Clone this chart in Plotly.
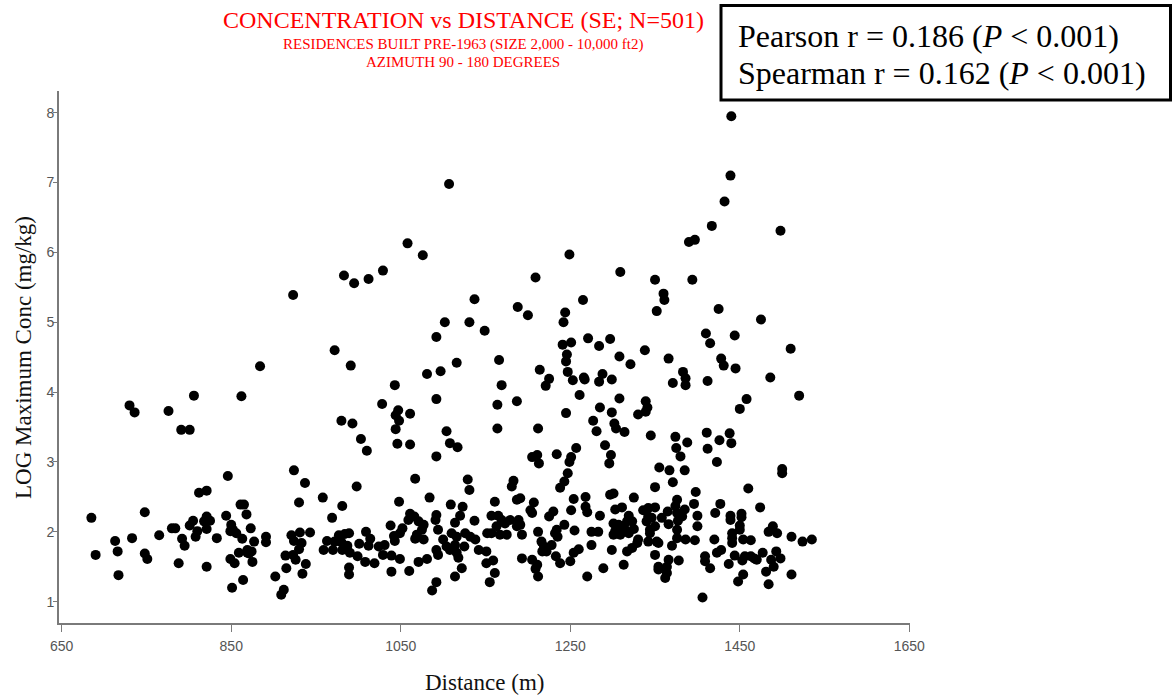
import plotly.graph_objects as go

# ---- data: distance from source (m) and log of maximum concentration (mg/kg) ----
dist_high_east = [1440, 1439, 1432, 1417, 1390, 1397, 1498, 1309, 1350, 1394, 1360, 1361, 1352, 1425, 1475,
                  1410, 1415, 1444, 1510, 1271, 1284, 1297, 1308, 1321, 1338, 1366, 1383, 1386, 1386, 1371,
                  1412, 1428, 1431, 1445, 1486, 1266, 1267, 1288, 1284, 1299, 1265]
conc_high_east = [7.95, 7.10, 6.73, 6.38, 6.15, 6.18, 6.31, 5.72, 5.61, 5.61, 5.41, 5.32, 5.16, 5.19, 5.04,
                  4.84, 4.70, 4.81, 4.62, 4.77, 4.66, 4.76, 4.51, 4.40, 4.60, 4.48, 4.29, 4.20, 4.10, 4.13,
                  4.16, 4.48, 4.38, 4.34, 4.21, 4.21, 4.18, 4.26, 4.15, 4.18, 5.32]

dist_high_mid = [1107, 1058, 1076, 1249, 983, 995, 1012, 1029, 923, 1209, 1137, 1188, 1200, 1244, 1242,
                 1102, 1131, 1149, 1092, 972, 991, 1043, 1081, 1097, 1116, 1166, 1169, 1214, 1225, 1221,
                 1241, 1251, 1246, 1245, 1247, 1253, 884]
conc_high_mid = [6.98, 6.13, 5.96, 5.97, 5.67, 5.56, 5.62, 5.74, 5.39, 5.64, 5.33, 5.22, 5.10, 5.14, 5.00,
                 5.00, 5.00, 4.88, 4.79, 4.60, 4.38, 4.10, 4.26, 4.30, 4.42, 4.46, 4.10, 4.32, 4.19, 4.09,
                 4.68, 4.71, 4.54, 4.44, 4.29, 4.17, 4.37]

dist_near = [730, 736, 806, 862, 776, 791, 801, 846, 812, 821, 685, 748, 690, 713, 716,
             717, 733, 748, 751, 765, 780, 784, 792, 795, 788, 801, 805, 810, 808, 818,
             821, 825, 821, 821, 833, 844, 850, 852, 856, 849, 861, 865, 868, 873, 863,
             877, 859, 869, 874, 871, 869, 849, 854, 875, 864, 851, 891, 891, 902]
conc_near = [3.81, 3.71, 3.95, 3.94, 3.73, 3.46, 3.46, 2.80, 2.56, 2.59, 2.20, 2.28, 1.67, 1.87, 1.72,
             1.38, 1.91, 1.69, 1.61, 1.95, 2.05, 2.05, 1.90, 1.80, 1.55, 2.09, 2.16, 2.01, 1.93, 2.15,
             2.22, 2.16, 2.04, 1.50, 1.91, 2.23, 2.10, 2.03, 1.98, 2.01, 2.39, 2.39, 2.25, 2.05, 1.90,
             1.86, 1.70, 1.74, 1.72, 1.69, 1.70, 1.61, 1.55, 1.57, 1.31, 1.20, 1.93, 1.85, 1.36]

dist_mid_upper = [1092, 1028, 1047, 1061, 1044, 1048, 1044, 980, 993, 1003, 1010, 1046, 1061, 1104, 1108,
                  1117, 1092, 924, 937, 930, 998, 958, 981, 969, 1067, 1048, 1084, 1129, 1131, 1109,
                  1123, 1120, 1114, 1137, 1092, 1091]
conc_mid_upper = [3.90, 3.83, 3.74, 3.69, 3.67, 3.59, 3.47, 3.59, 3.55, 3.33, 3.16, 3.26, 3.25, 3.44, 3.27,
                  3.21, 3.08, 2.88, 2.70, 2.42, 2.65, 2.49, 2.37, 2.20, 2.76, 2.43, 2.49, 2.75, 2.60, 2.39,
                  2.36, 2.23, 2.13, 2.16, 2.24, 2.17]

dist_mid_band = [1061, 1066, 1071, 1077, 1075, 1069, 1067, 1077, 1059, 1038, 1052, 1049, 1042, 1043,
                 921, 931, 943, 924, 933, 930, 923, 914, 926, 915, 938, 934, 912, 909,
                 963, 959, 972, 977, 984, 989, 980, 981, 987, 990, 999, 1001, 1009, 1014, 1012, 1008,
                 1019, 989, 989, 970,
                 1024, 1031, 1029, 1039, 1039, 1049, 1060, 1071, 1081,
                 1092, 1094, 1100, 1104, 1110, 1116, 1114, 1108, 1116, 1118, 1122, 1114, 1092, 1087,
                 1126, 1132, 1138, 1142, 1151, 1151, 1125, 1094]
conc_mid_band = [2.26, 2.22, 2.15, 2.10, 2.03, 1.96, 1.90, 1.89, 2.17, 2.09, 2.05, 1.98, 1.94, 1.87,
                 1.95, 1.99, 1.99, 1.87, 1.84, 1.75, 1.67, 1.66, 1.60, 1.48, 1.54, 1.40, 1.17, 1.10,
                 1.87, 1.74, 1.86, 1.95, 1.97, 1.98, 1.85, 1.74, 1.80, 1.70, 1.65, 1.83, 2.00, 1.90, 1.80, 1.57,
                 1.55, 1.49, 1.39, 1.74,
                 1.79, 1.81, 1.67, 1.66, 1.43, 1.61, 1.44, 1.57, 1.61,
                 1.74, 1.67, 1.89, 1.79, 1.98, 1.93, 1.81, 1.74, 1.70, 1.63, 1.48, 1.36, 1.28, 1.16,
                 1.98, 1.93, 1.89, 1.74, 1.72, 1.55, 1.79, 2.03]

dist_far_upper = [1164, 1187, 1164, 1212, 1245, 1261, 1308, 1285, 1299, 1277, 1281, 1302, 1304, 1314, 1339,
                  1341, 1339, 1330, 1345, 1374, 1388, 1375, 1380, 1234, 1257, 1251, 1249, 1247, 1243, 1238,
                  1291, 1298, 1296, 1205, 1211, 1213, 1183, 1181, 1355, 1367, 1385, 1371, 1350, 1398, 1396,
                  1400, 1400, 1397]
conc_far_upper = [3.82, 3.87, 3.48, 3.48, 3.70, 3.96, 3.91, 3.78, 3.71, 3.59, 3.44, 3.55, 3.48, 3.43, 3.87,
                  3.78, 3.72, 3.68, 3.38, 3.36, 3.28, 3.20, 3.08, 3.11, 3.20, 3.07, 3.00, 2.84, 2.72, 2.63,
                  3.24, 3.10, 2.98, 3.07, 3.10, 2.98, 2.73, 2.65, 2.92, 2.88, 2.88, 2.71, 2.64, 2.57, 2.40,
                  2.23, 2.08, 1.88]

dist_far_band = [1161, 1157, 1165, 1169, 1173, 1179, 1189, 1191, 1193, 1187, 1163, 1157, 1152, 1175, 1167,
                 1187, 1191, 1203, 1207, 1205, 1159, 1161, 1155, 1212, 1193, 1205, 1211, 1209, 1212,
                 1216, 1219, 1222, 1217, 1228, 1232, 1234, 1243, 1235, 1233, 1238, 1250, 1254, 1260, 1255,
                 1225, 1230, 1251, 1254, 1268, 1268, 1270, 1285, 1297, 1301, 1325, 1303, 1311, 1319,
                 1301, 1307, 1303, 1311, 1315, 1309, 1319, 1325, 1301, 1323, 1317,
                 1275, 1283, 1275, 1299, 1289, 1270, 1313, 1317, 1323, 1329, 1330,
                 1336, 1342, 1350, 1342, 1346, 1340, 1358, 1365, 1376, 1374, 1385, 1376, 1382, 1366, 1377,
                 1344, 1350, 1376, 1342, 1352, 1354, 1370, 1376, 1386, 1344,
                 1350, 1354, 1364, 1362, 1366, 1378, 1354, 1364]
conc_far_band = [2.43, 2.23, 2.23, 2.17, 2.12, 2.17, 2.17, 2.10, 1.96, 2.08, 2.08, 1.98, 1.98, 1.96, 1.96,
                 2.46, 2.48, 2.31, 2.42, 2.27, 1.59, 1.41, 1.28, 2.00, 1.62, 1.60, 1.53, 1.47, 1.36,
                 1.86, 1.79, 1.72, 1.72, 1.81, 1.98, 2.03, 2.10, 1.93, 1.65, 1.55, 1.58, 1.70, 1.75, 2.02,
                 2.22, 2.29, 2.31, 2.47, 2.50, 2.36, 2.28, 2.23, 2.53, 2.55, 2.49, 2.32, 2.35, 2.23,
                 2.12, 2.10, 2.01, 2.08, 2.03, 1.96, 1.98, 2.04, 1.96, 2.15, 2.15,
                 2.00, 2.00, 1.81, 1.74, 1.48, 1.36, 1.53, 1.72, 1.77, 1.84, 1.89,
                 2.31, 2.34, 2.35, 2.22, 2.20, 2.15, 2.20, 2.29, 2.46, 2.37, 2.32, 2.27, 2.22, 2.11, 2.16,
                 2.03, 2.08, 2.03, 1.86, 1.86, 1.84, 1.80, 1.91, 1.89, 1.98,
                 1.67, 1.50, 1.50, 1.34, 1.60, 1.59, 1.46, 1.41]

dist_farthest = [1458, 1450, 1520, 1411, 1426, 1412, 1438, 1440, 1423, 1500, 1500, 1460, 1474, 1427, 1421,
                 1439, 1439, 1452, 1452, 1450, 1450,
                 1420, 1441, 1441, 1441, 1454, 1463, 1484, 1489, 1494, 1511, 1524, 1535,
                 1409, 1409, 1415, 1423, 1428, 1437, 1444, 1453, 1456, 1463, 1467, 1470, 1477, 1487, 1493,
                 1498, 1490, 1454, 1448, 1481, 1484, 1511, 1406]
conc_farthest = [3.90, 3.76, 3.95, 3.42, 3.31, 3.19, 3.41, 3.27, 3.00, 2.90, 2.84, 2.62, 2.35, 2.40, 2.27,
                 2.23, 2.17, 2.26, 2.21, 2.09, 2.03,
                 1.89, 1.98, 1.91, 1.84, 1.89, 1.88, 2.00, 2.08, 1.98, 1.93, 1.86, 1.89,
                 1.65, 1.58, 1.48, 1.70, 1.74, 1.54, 1.66, 1.59, 1.65, 1.65, 1.62, 1.60, 1.70, 1.60, 1.72,
                 1.62, 1.50, 1.39, 1.29, 1.43, 1.25, 1.39, 1.06]

x_ticks = [650, 850, 1050, 1250, 1450, 1650]
y_ticks = [1, 2, 3, 4, 5, 6, 7, 8]

title_text = "CONCENTRATION vs DISTANCE (SE; N=501)"
subtitle_1 = "RESIDENCES BUILT PRE-1963 (SIZE 2,000 - 10,000 ft2)"
subtitle_2 = "AZIMUTH 90 - 180 DEGREES"
stats_lines = ["Pearson r = 0.186 (<i>P</i> &lt; 0.001)",
               "Spearman r = 0.162 (<i>P</i> &lt; 0.001)"]

groups = [(dist_high_east, conc_high_east), (dist_high_mid, conc_high_mid),
          (dist_near, conc_near), (dist_mid_upper, conc_mid_upper),
          (dist_mid_band, conc_mid_band), (dist_far_upper, conc_far_upper),
          (dist_far_band, conc_far_band), (dist_farthest, conc_farthest)]
distance, log_conc = [], []
for dx, cy in groups:
    if len(dx) != len(cy):
        raise ValueError(f"length mismatch {len(dx)} vs {len(cy)}")
    distance += dx
    log_conc += cy

# ---- layout geometry (pixels) ----
W, H = 1172, 696
PL, PR, PT, PB = 59, 910, 91, 623  # plot area edges


def paper_x(px):
    return (px - PL) / (PR - PL)


def paper_y(py):
    return (PB - py) / (PB - PT)


serif = "Liberation Serif, Times New Roman, serif"
axis_grey = "#7a7a7a"
tick_font = dict(family="Liberation Sans, Arial", size=14, color="#555555")

fig = go.Figure(
    go.Scatter(x=distance, y=log_conc, mode="markers",
               marker=dict(size=10, color="black", line=dict(width=0)),
               showlegend=False, hoverinfo="x+y")
)

fig.update_layout(
    width=W, height=H,
    margin=dict(l=PL, r=W - PR, t=PT, b=H - PB, pad=0),
    paper_bgcolor="white", plot_bgcolor="white",
    xaxis=dict(range=[646.8, 1650.8], tickvals=x_ticks, ticks="outside", ticklen=7,
               tickwidth=1, tickcolor=axis_grey, showline=True, linecolor=axis_grey,
               linewidth=2, showgrid=False, zeroline=False,
               ticklabelstandoff=2, tickfont=tick_font),
    yaxis=dict(range=[0.695, 8.311], tickvals=y_ticks, ticks="outside", ticklen=4,
               tickwidth=1, tickcolor=axis_grey, showline=True, linecolor=axis_grey,
               linewidth=2, showgrid=False, zeroline=False,
               ticklabelstandoff=-4, tickfont=tick_font),
)

annotations = [
    dict(text=title_text, x=paper_x(463), y=paper_y(20),
         font=dict(family=serif, size=24, color="#ff0000")),
    dict(text=subtitle_1, x=paper_x(463), y=paper_y(45),
         font=dict(family=serif, size=15, color="#ff0000")),
    dict(text=subtitle_2, x=paper_x(463), y=paper_y(62),
         font=dict(family=serif, size=15, color="#ff0000")),
    dict(text="Distance (m)", x=paper_x(484), y=paper_y(682),
         font=dict(family=serif, size=23, color="#111111")),
    dict(text="LOG Maximum Conc (mg/kg)", x=paper_x(23), y=paper_y(358), textangle=-90,
         font=dict(family=serif, size=23, color="#111111")),
    dict(text=stats_lines[0], x=paper_x(736), y=paper_y(36), xanchor="left",
         font=dict(family=serif, size=32, color="black")),
    dict(text=stats_lines[1], x=paper_x(736), y=paper_y(73), xanchor="left",
         font=dict(family=serif, size=32, color="black")),
]
for a in annotations:
    a.setdefault("xanchor", "center")
    a.update(xref="paper", yref="paper", yanchor="middle", showarrow=False)
fig.update_layout(annotations=annotations)

fig.add_shape(type="rect", xref="paper", yref="paper",
              x0=paper_x(721), x1=paper_x(1170.5), y0=paper_y(100), y1=paper_y(5.5),
              line=dict(color="black", width=3), fillcolor="rgba(0,0,0,0)")

fig.write_html("out.html")
